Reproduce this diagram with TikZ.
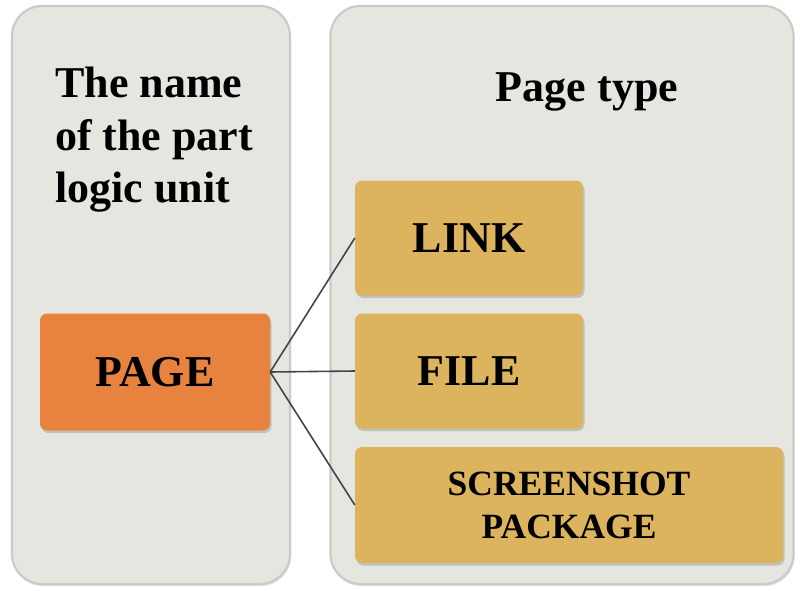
\documentclass[tikz,border=0pt]{standalone}
\usepackage{fontspec}
\setmainfont{Liberation Serif}
\usetikzlibrary{shadows}
\definecolor{panelfill}{HTML}{E5E6E0}
\definecolor{paneledge}{HTML}{C9CCC8}
\definecolor{orangebox}{HTML}{E8823F}
\definecolor{goldbox}{HTML}{DDB45E}
\definecolor{linkline}{HTML}{454545}
\tikzset{
  panel/.style={draw=paneledge, line width=2.2pt, fill=panelfill, rounded corners=30pt,
    drop shadow={opacity=0.25, shadow xshift=1pt, shadow yshift=-2pt}},
  itembox/.style={rounded corners=7pt, inner sep=0pt, align=center,
    drop shadow={opacity=0.35, shadow xshift=1.5pt, shadow yshift=-2.5pt},
    font=\bfseries\fontsize{44}{50}\selectfont},
  headtext/.style={font=\bfseries\fontsize{44}{52}\selectfont, inner sep=0pt},
  connector/.style={draw=linkline, line width=1.6pt}
}
\begin{document}
\begin{tikzpicture}[x=1pt,y=-1pt]
\useasboundingbox[fill=white] (0,0) rectangle (800,590);
% panels
\node[panel, minimum width=278pt, minimum height=578pt] (lp) at (151,295) {};
\node[panel, minimum width=463pt, minimum height=578pt] (rp) at (562,295) {};
% headings
\node[headtext, anchor=base west] (t1) at (55,97) {The name};
\node[headtext, anchor=base west] (t2) at (55,150) {of the part};
\node[headtext, anchor=base west] (t3) at (55,202) {logic unit};
\node[headtext, anchor=base] (t4) at (587,101) {Page type};
% boxes
\node[itembox, fill=orangebox, minimum width=230pt, minimum height=117pt] (page) at (155,372) {PAGE};
\node[itembox, fill=goldbox, minimum width=228pt, minimum height=115pt] (link) at (469,238) {LINK};
\node[itembox, fill=goldbox, minimum width=228pt, minimum height=115pt] (file) at (469,371) {FILE};
\node[itembox, fill=goldbox, minimum width=428pt, minimum height=116pt,
      font=\bfseries\fontsize{35.5}{43}\selectfont] (shot) at (569,505) {SCREENSHOT\\PACKAGE};
% connectors
\draw[connector] (page.east) -- (link.west);
\draw[connector] (page.east) -- (file.west);
\draw[connector] (page.east) -- (shot.west);
\end{tikzpicture}
\end{document}
